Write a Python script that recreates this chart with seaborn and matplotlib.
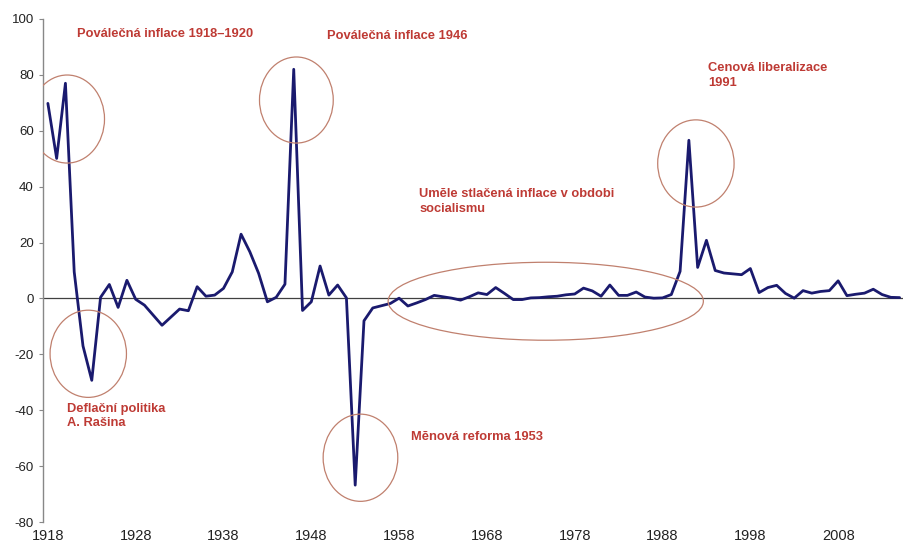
import pandas as pd
import matplotlib
matplotlib.use('Agg')
import matplotlib.pyplot as plt
from matplotlib.patches import Ellipse
import seaborn as sns

# --- Data ---
years = list(range(1918, 2016))
inflation = [
    69.8, 50.1, 77.0, 9.5, -17.0, -29.3, 0.4, 5.0, -3.2, 6.5,      # 1918-1927
    -0.3, -2.4, -6.0, -9.6, -6.7, -3.8, -4.4, 4.2, 0.8, 1.2,       # 1928-1937
    3.6, 9.5, 23.0, 16.7, 9.0, -1.2, 0.4, 5.1, 82.0, -4.3,         # 1938-1947
    -1.2, 11.6, 1.2, 4.8, 0.2, -66.8, -8.0, -3.4, -2.6, -1.8,      # 1948-1957
    0.1, -2.7, -1.6, -0.4, 1.1, 0.6, 0.1, -0.6, 0.6, 2.0,          # 1958-1967
    1.4, 3.9, 1.8, -0.4, -0.4, 0.2, 0.3, 0.6, 0.8, 1.3,            # 1968-1977
    1.6, 3.7, 2.7, 0.8, 4.8, 1.1, 1.1, 2.3, 0.5, 0.1,              # 1978-1987
    0.2, 1.4, 9.7, 56.6, 11.1, 20.8, 10.0, 9.1, 8.8, 8.5,          # 1988-1997
    10.7, 2.1, 3.9, 4.7, 1.8, 0.1, 2.8, 1.9, 2.5, 2.8,             # 1998-2007
    6.3, 1.0, 1.5, 1.9, 3.3, 1.4, 0.4, 0.3,                        # 2008-2015
]
x_ticks = list(range(1918, 2009, 10))
y_ticks = list(range(-80, 101, 20))

# annotations: (text, x, y)
labels = [
    ('Poválečná inflace 1918–1920', 1921.3, 94.6),
    ('Poválečná inflace 1946', 1949.8, 93.9),
    ('Umĕle stlačená inflace v obdobi\nsocialismu', 1960.3, 34.7),
    ('Cenová liberalizace\n1991', 1993.2, 79.8),
    ('Deflační politika\nA. Rašina', 1920.2, -42.0),
    ('Mĕnová reforma 1953', 1959.4, -49.7),
]
# highlight ellipses: (x, y, width, height)
ellipses = [
    (1920.2, 64.2, 8.5, 31.5),
    (1946.3, 71.0, 8.4, 30.8),
    (1922.6, -19.8, 8.7, 31.2),
    (1953.6, -57.0, 8.5, 31.2),
    (1991.8, 48.3, 8.7, 31.2),
    (1974.7, -1.0, 35.9, 27.9),
]

LINE_COLOR = '#1A1A6E'
TEXT_RED = '#BE3A34'
ELLIPSE_COLOR = '#C0806E'

sns.set_theme(style='white')
plt.rcParams['font.family'] = ['Liberation Sans', 'DejaVu Sans']

df = pd.DataFrame({'year': years, 'inflation': inflation})

fig = plt.figure(figsize=(9.04, 5.44), dpi=100)
ax = fig.add_axes([0.0481, 0.0404, 0.9519, 0.9247])

ax.axhline(0, color='#404040', lw=0.9, zorder=1)
sns.lineplot(data=df, x='year', y='inflation', ax=ax, color=LINE_COLOR,
             lw=2.0, zorder=3)

for (ex, ey, ew, eh) in ellipses:
    ax.add_patch(Ellipse((ex, ey), ew, eh, fill=False, edgecolor=ELLIPSE_COLOR,
                         lw=0.9, zorder=4))

for (txt, tx, ty) in labels:
    ax.text(tx, ty, txt, color=TEXT_RED, fontsize=9.3, fontweight='bold',
            ha='left', va='center', linespacing=1.25)

ax.set_xlim(1917.5, 2015.5)
ax.set_ylim(-80, 100)
ax.set_xticks(x_ticks)
ax.set_xticklabels([str(t) for t in x_ticks])
ax.set_yticks(y_ticks)
ax.set_yticklabels([str(t) for t in y_ticks])
ax.set_xlabel('')
ax.set_ylabel('')

for side in ['top', 'right', 'bottom']:
    ax.spines[side].set_visible(False)
ax.spines['left'].set_color('#888888')
ax.spines['left'].set_linewidth(1.0)

ax.tick_params(axis='y', left=True, length=3, width=0.8, color='#888888',
               pad=4, labelsize=9.5, labelcolor='#222222')
ax.tick_params(axis='x', bottom=False, length=0, pad=5, labelsize=10.5,
               labelcolor='#222222')
ax.grid(False)

fig.savefig('out.png', dpi=100)
